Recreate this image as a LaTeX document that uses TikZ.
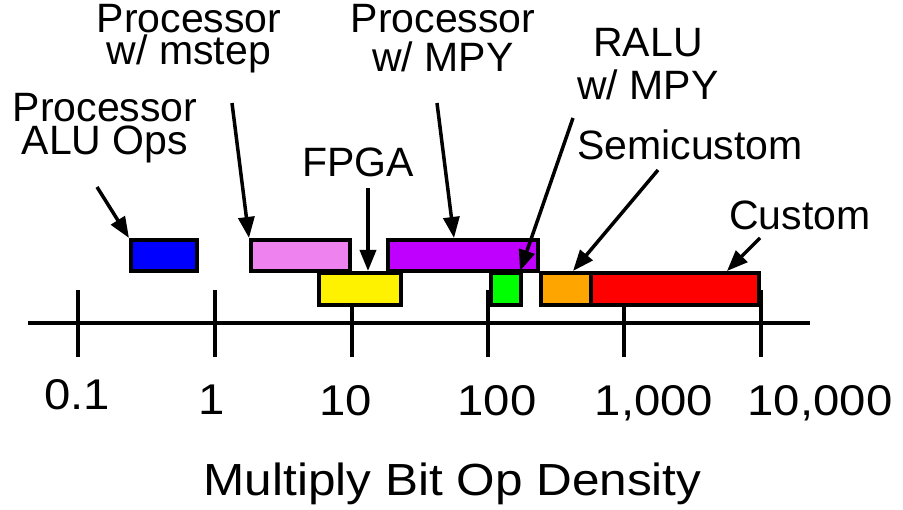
\documentclass[tikz,border=0pt]{standalone}
\usepackage{fontspec}
\setmainfont{Liberation Sans}
\newfontfamily\widesans{Liberation Sans}[FakeStretch=1.1]
\usetikzlibrary{arrows.meta}
% two centred lines with a chosen baseline distance; the base is the first line
\newcommand\twolines[3]{\vtop{\baselineskip=#1\relax\halign{\hfil##\hfil\cr#2\cr#3\cr}}}

\begin{document}
\begin{tikzpicture}[x=1pt,y=-1pt,
  axisline/.style={line width=3.5pt},
  bar/.style={draw=black, line width=4pt, inner sep=0pt, minimum width=#1},
  toprow/.style={minimum height=31pt},
  lowrow/.style={minimum height=32pt},
  arr/.style={line width=3.5pt, -{Triangle[length=21pt,width=16pt]}},
  lbl/.style={anchor=base, inner sep=0pt, font=\fontsize{41pt}{41pt}\selectfont},
  ticklbl/.style={anchor=base, inner sep=0pt, font=\widesans\fontsize{43pt}{43pt}\selectfont},
  axislbl/.style={anchor=base, inner sep=0pt, font=\widesans\fontsize{45pt}{45pt}\selectfont}]

\useasboundingbox (0,0) rectangle (903,510);

% axis with decade ticks
\draw[axisline] (28,323) -- (810,323);
\foreach \x in {78,215,352,488,624,761}
  \draw[axisline] (\x,290) -- (\x,357);

% ranges, upper row
\node[bar=66pt,  toprow, fill=blue]              (alu)   at (164,255.5) {};
\node[bar=99pt,  toprow, fill={rgb,255:red,238;green,130;blue,238}] (mstep) at (300.5,255.5) {};
\node[bar=150pt, toprow, fill={rgb,255:red,192;green,0;blue,255}]   (mpy)   at (463,255.5) {};
% ranges, lower row
\node[bar=82pt,  lowrow, fill=yellow]            (fpga)  at (360,289) {};
\node[bar=30pt,  lowrow, fill={rgb,255:red,0;green,255;blue,0}]     (ralu)  at (506,289) {};
\node[bar=50pt,  lowrow, fill={rgb,255:red,255;green,165;blue,0}]   (semi)  at (566,289) {};
\node[bar=168pt, lowrow, fill=red]               (cust)  at (675,289) {};

% labels
\node[lbl] (aluL)   at (105,122) {\twolines{33pt}{Processor}{ALU Ops}};
\node[lbl] (mstepL) at (189,33)  {\twolines{32pt}{Processor}{w/ mstep}};
\node[lbl] (mpyL)   at (443,33)  {\twolines{39pt}{Processor}{w/ MPY}};
\node[lbl] (fpgaL)  at (358,177) {FPGA};
\node[lbl] (raluL)  at (648,57)  {\twolines{43pt}{RALU}{w/ MPY}};
\node[lbl] (semiL)  at (690,160) {Semicustom};
\node[lbl] (custL)  at (800,230) {Custom};

% arrow tails under the labels
\coordinate (aluT)   at (97,187);
\coordinate (mstepT) at (232,103);
\coordinate (fpgaT)  at (368,188);
\coordinate (mpyT)   at (437,103);
\coordinate (raluT)  at (573,118);
\coordinate (semiT)  at (658,170);
\coordinate (custT)  at (760,238);

% pointers
\draw[arr] (aluT)   -- (alu.north west);
\draw[arr] (mstepT) -- (mstep.north west);
\draw[arr] (fpgaT)  -- (fpgaT |- fpga.north);
\draw[arr] (mpyT)   -- ([xshift=-9pt]mpy.north);
\draw[arr] (raluT)  -- ([xshift=-3pt]ralu.north east);
\draw[arr] (semiT)  -- ([xshift=7pt]semi.north);
\draw[arr] (custT)  -- ([xshift=52pt]cust.north);

% scale values
\node[ticklbl] (t0) at (77,410)  {0.1};
\node[ticklbl] (t1) at (212,415) {1};
\node[ticklbl] (t2) at (346,416) {10};
\node[ticklbl] (t3) at (497,416) {100};
\node[ticklbl] (t4) at (654,416) {1,000};
\node[ticklbl] (t5) at (820,416) {10,000};

\node[axislbl] (title) at (452.5,496) {Multiply Bit Op Density};
\end{tikzpicture}
\end{document}
